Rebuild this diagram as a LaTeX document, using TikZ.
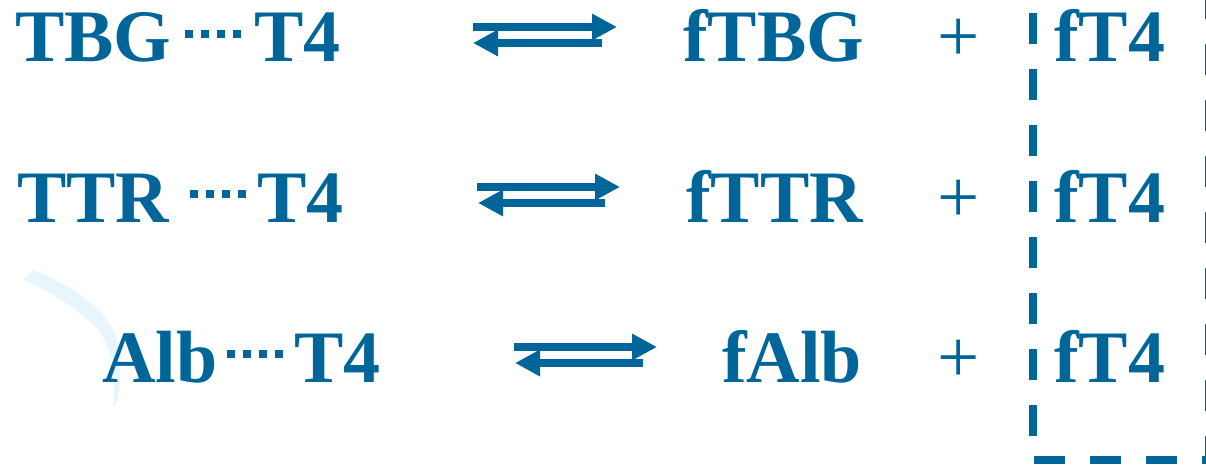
\documentclass[tikz,border=0pt]{standalone}
\usepackage{fontspec}
\setmainfont{Liberation Serif}
\usetikzlibrary{arrows.meta}
\definecolor{chem}{RGB}{0,102,153}
\definecolor{haze}{RGB}{232,245,253}
\tikzset{
  species/.style={anchor=base west, inner sep=0pt, text=chem,
    font=\fontsize{74}{80}\selectfont\bfseries},
  plus/.style={anchor=base, inner sep=0pt, text=chem,
    font=\fontsize{75}{80}\selectfont},
  bond/.style={draw=chem, line width=8pt, dash pattern=on 8pt off 8pt},
  fwd/.style={draw=chem, line width=8pt,
    -{Triangle[length=25pt 0 0, width=25pt 0]}},
  free/.style={draw=chem, line width=8pt, dash pattern=on 31pt off 25pt}
}
\begin{document}
\begin{tikzpicture}[x=1pt, y=-1pt]
\useasboundingbox (0,0) rectangle (1206,465);
\clip (0,0) rectangle (1206,465);

% faint stroke behind the albumin label
\fill[haze] (33,270) .. controls (70,285) and (100,305) .. (113,330)
  .. controls (122,350) and (122,380) .. (116,405)
  -- (113,405) .. controls (116,380) and (113,350) .. (101,334)
  .. controls (85,312) and (50,292) .. (23,279) -- cycle;

% bound complexes
\node[species] (tbg) at (15,62) {TBG};
\node[species] (t4a) at (254,62) {T4};
\node[species] (ttr) at (17,222) {TTR};
\node[species] (t4b) at (257,222) {T4};
\node[species] (alb) at (102,382) {Alb};
\node[species] (t4c) at (294,382) {T4};

% non-covalent binding between carrier and hormone
\coordinate (b1s) at (185,34);  \coordinate (b1e) at (241,34);
\coordinate (b2s) at (190,194); \coordinate (b2e) at (246,194);
\coordinate (b3s) at (227,354); \coordinate (b3e) at (283,354);
\draw[bond] (b1s) -- (b1e);
\draw[bond] (b2s) -- (b2e);
\draw[bond] (b3s) -- (b3e);

% equilibrium arrows
\coordinate (r1a) at (473,27);  \coordinate (r1b) at (617,27);
\coordinate (l1a) at (602,43);  \coordinate (l1b) at (473,43);
\coordinate (r2a) at (477,187); \coordinate (r2b) at (620,187);
\coordinate (l2a) at (605,203); \coordinate (l2b) at (478,203);
\coordinate (r3a) at (514,347); \coordinate (r3b) at (657,347);
\coordinate (l3a) at (643,363); \coordinate (l3b) at (515,363);
\draw[fwd] (r1a) -- (r1b);
\draw[fwd] (l1a) -- (l1b);
\draw[fwd] (r2a) -- (r2b);
\draw[fwd] (l2a) -- (l2b);
\draw[fwd] (r3a) -- (r3b);
\draw[fwd] (l3a) -- (l3b);

% free carriers
\node[species] (ftbg) at (683,62) {fTBG};
\node[species] (fttr) at (686,222) {fTTR};
\node[species] (falb) at (722,382) {fAlb};

\node[plus] (p1) at (959,62) {+};
\node[plus] (p2) at (959,222) {+};
\node[plus] (p3) at (959,382) {+};

% free hormone
\node[species] (ft4a) at (1054,62) {fT4};
\node[species] (ft4b) at (1054,222) {fT4};
\node[species] (ft4c) at (1054,382) {fT4};

% frame around the free hormone column
\coordinate (fa) at (1033,-43);
\coordinate (fb) at (1033,460);
\coordinate (fc) at (1209,460);
\coordinate (fd) at (1209,-43);
\draw[free] (fa) -- (fb) -- (fc) -- (fd);
\end{tikzpicture}
\end{document}
